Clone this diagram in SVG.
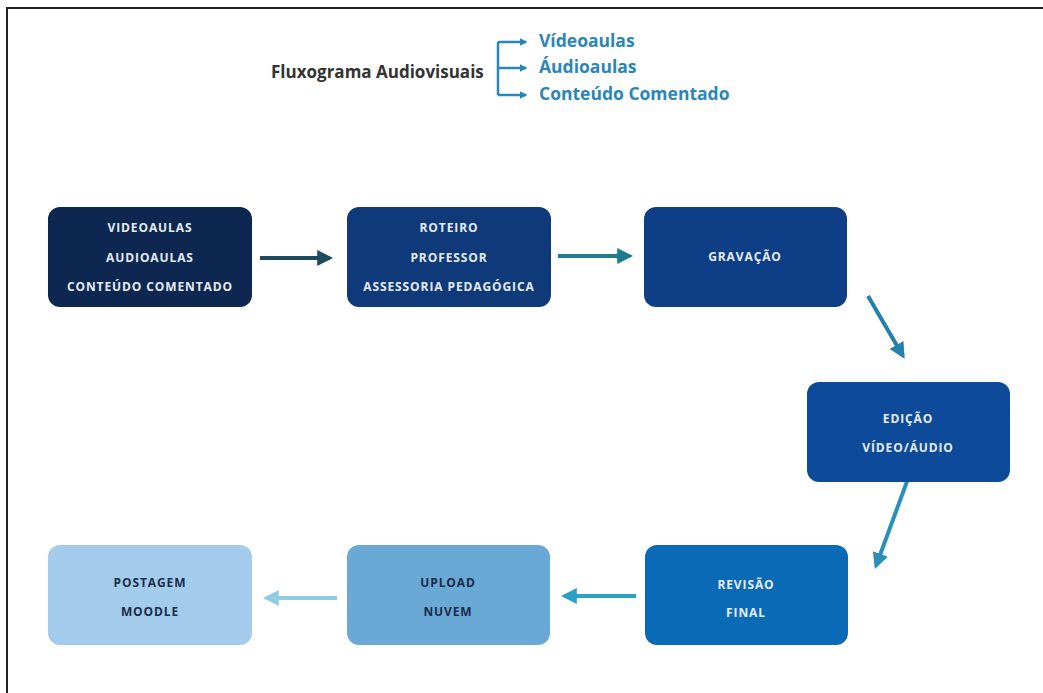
<svg xmlns="http://www.w3.org/2000/svg" width="1043" height="693" viewBox="0 0 1043 693">
<style>
.box{stroke:none}
.nt{font-family:"Open Sans","Liberation Sans",sans-serif;font-weight:bold;font-size:12px;letter-spacing:0.9px;text-anchor:middle}
.lt{fill:#e6ecf5}
.dk{fill:#1b2c48}
.hd{font-family:"Open Sans","Liberation Sans",sans-serif;font-weight:bold;font-size:17px}
.hb{font-size:17.5px;fill:#2a86b8}
.conn{fill:none;stroke-width:4}
</style>
<defs>
<marker id="m1" viewBox="0 0 10 10" refX="8" refY="5" markerWidth="4" markerHeight="4" orient="auto" markerUnits="strokeWidth"><path d="M0,0 L10,5 L0,10 z" fill="#1d4a5c"/></marker>
<marker id="m2" viewBox="0 0 10 10" refX="8" refY="5" markerWidth="4" markerHeight="4" orient="auto" markerUnits="strokeWidth"><path d="M0,0 L10,5 L0,10 z" fill="#1f7a8e"/></marker>
<marker id="m3" viewBox="0 0 10 10" refX="8" refY="5" markerWidth="4" markerHeight="4" orient="auto" markerUnits="strokeWidth"><path d="M0,0 L10,5 L0,10 z" fill="#2580aa"/></marker>
<marker id="m4" viewBox="0 0 10 10" refX="8" refY="5" markerWidth="4" markerHeight="4" orient="auto" markerUnits="strokeWidth"><path d="M0,0 L10,5 L0,10 z" fill="#2a8fba"/></marker>
<marker id="m5" viewBox="0 0 10 10" refX="8" refY="5" markerWidth="4" markerHeight="4" orient="auto" markerUnits="strokeWidth"><path d="M0,0 L10,5 L0,10 z" fill="#2aa0c4"/></marker>
<marker id="m6" viewBox="0 0 10 10" refX="8" refY="5" markerWidth="4" markerHeight="4" orient="auto" markerUnits="strokeWidth"><path d="M0,0 L10,5 L0,10 z" fill="#90cde0"/></marker>
<marker id="mh" viewBox="0 0 10 10" refX="8" refY="5" markerWidth="3" markerHeight="3" orient="auto" markerUnits="strokeWidth"><path d="M0,0 L10,5 L0,10 z" fill="#2a86b8"/></marker>
</defs>
<rect width="1043" height="693" fill="#ffffff"/>
<path d="M7,693 V8 H1043" fill="none" stroke="#222" stroke-width="2"/>

<g id="header">
<text class="hd" x="271" y="78" fill="#333333">Fluxograma Audiovisuais</text>
<g fill="none" stroke="#2a86b8" stroke-width="2.5">
<path d="M498,42 V95"/>
<path d="M498,42 H526" marker-end="url(#mh)"/>
<path d="M498,68 H526" marker-end="url(#mh)"/>
<path d="M498,95 H526" marker-end="url(#mh)"/>
</g>
<text class="hd hb" x="539" y="47">Vídeoaulas</text>
<text class="hd hb" x="539" y="73">Áudioaulas</text>
<text class="hd hb" x="539" y="100">Conteúdo Comentado</text>
</g>

<g id="connectors">
<path class="conn" d="M260,258 H330" stroke="#1d4a5c" marker-end="url(#m1)"/>
<path class="conn" d="M558,256 H630" stroke="#1f7a8e" marker-end="url(#m2)"/>
<path class="conn" d="M868,296 L903,356" stroke="#2580aa" marker-end="url(#m3)"/>
<path class="conn" d="M909,476 L876,566" stroke="#2a8fba" marker-end="url(#m4)"/>
<path class="conn" d="M636,596 H564" stroke="#2aa0c4" marker-end="url(#m5)"/>
<path class="conn" d="M337,598 H266" stroke="#90cde0" marker-end="url(#m6)"/>
</g>

<g id="n1">
<rect class="box" x="48" y="207" width="204" height="100" rx="12" fill="#0d2750"/>
<text class="nt lt" x="150" y="232">VIDEOAULAS</text>
<text class="nt lt" x="150" y="262">AUDIOAULAS</text>
<text class="nt lt" x="150" y="291">CONTEÚDO COMENTADO</text>
</g>
<g id="n2">
<rect class="box" x="347" y="207" width="204" height="100" rx="12" fill="#0f3a7a"/>
<text class="nt lt" x="449" y="232">ROTEIRO</text>
<text class="nt lt" x="449" y="262">PROFESSOR</text>
<text class="nt lt" x="449" y="291">ASSESSORIA PEDAGÓGICA</text>
</g>
<g id="n3">
<rect class="box" x="644" y="207" width="203" height="100" rx="12" fill="#0e3e86"/>
<text class="nt lt" x="745" y="261">GRAVAÇÃO</text>
</g>
<g id="n4">
<rect class="box" x="807" y="382" width="203" height="100" rx="12" fill="#0d4a99"/>
<text class="nt lt" x="908" y="423">EDIÇÃO</text>
<text class="nt lt" x="908" y="452">VÍDEO/ÁUDIO</text>
</g>
<g id="n5">
<rect class="box" x="645" y="545" width="203" height="100" rx="12" fill="#0a6ab5"/>
<text class="nt lt" x="746" y="589">REVISÃO</text>
<text class="nt lt" x="746" y="617">FINAL</text>
</g>
<g id="n6">
<rect class="box" x="347" y="545" width="203" height="100" rx="12" fill="#6aa9d6"/>
<text class="nt dk" x="448" y="587">UPLOAD</text>
<text class="nt dk" x="448" y="616">NUVEM</text>
</g>
<g id="n7">
<rect class="box" x="48" y="545" width="204" height="100" rx="12" fill="#a3ccec"/>
<text class="nt dk" x="150" y="587">POSTAGEM</text>
<text class="nt dk" x="150" y="616">MOODLE</text>
</g>
</svg>
